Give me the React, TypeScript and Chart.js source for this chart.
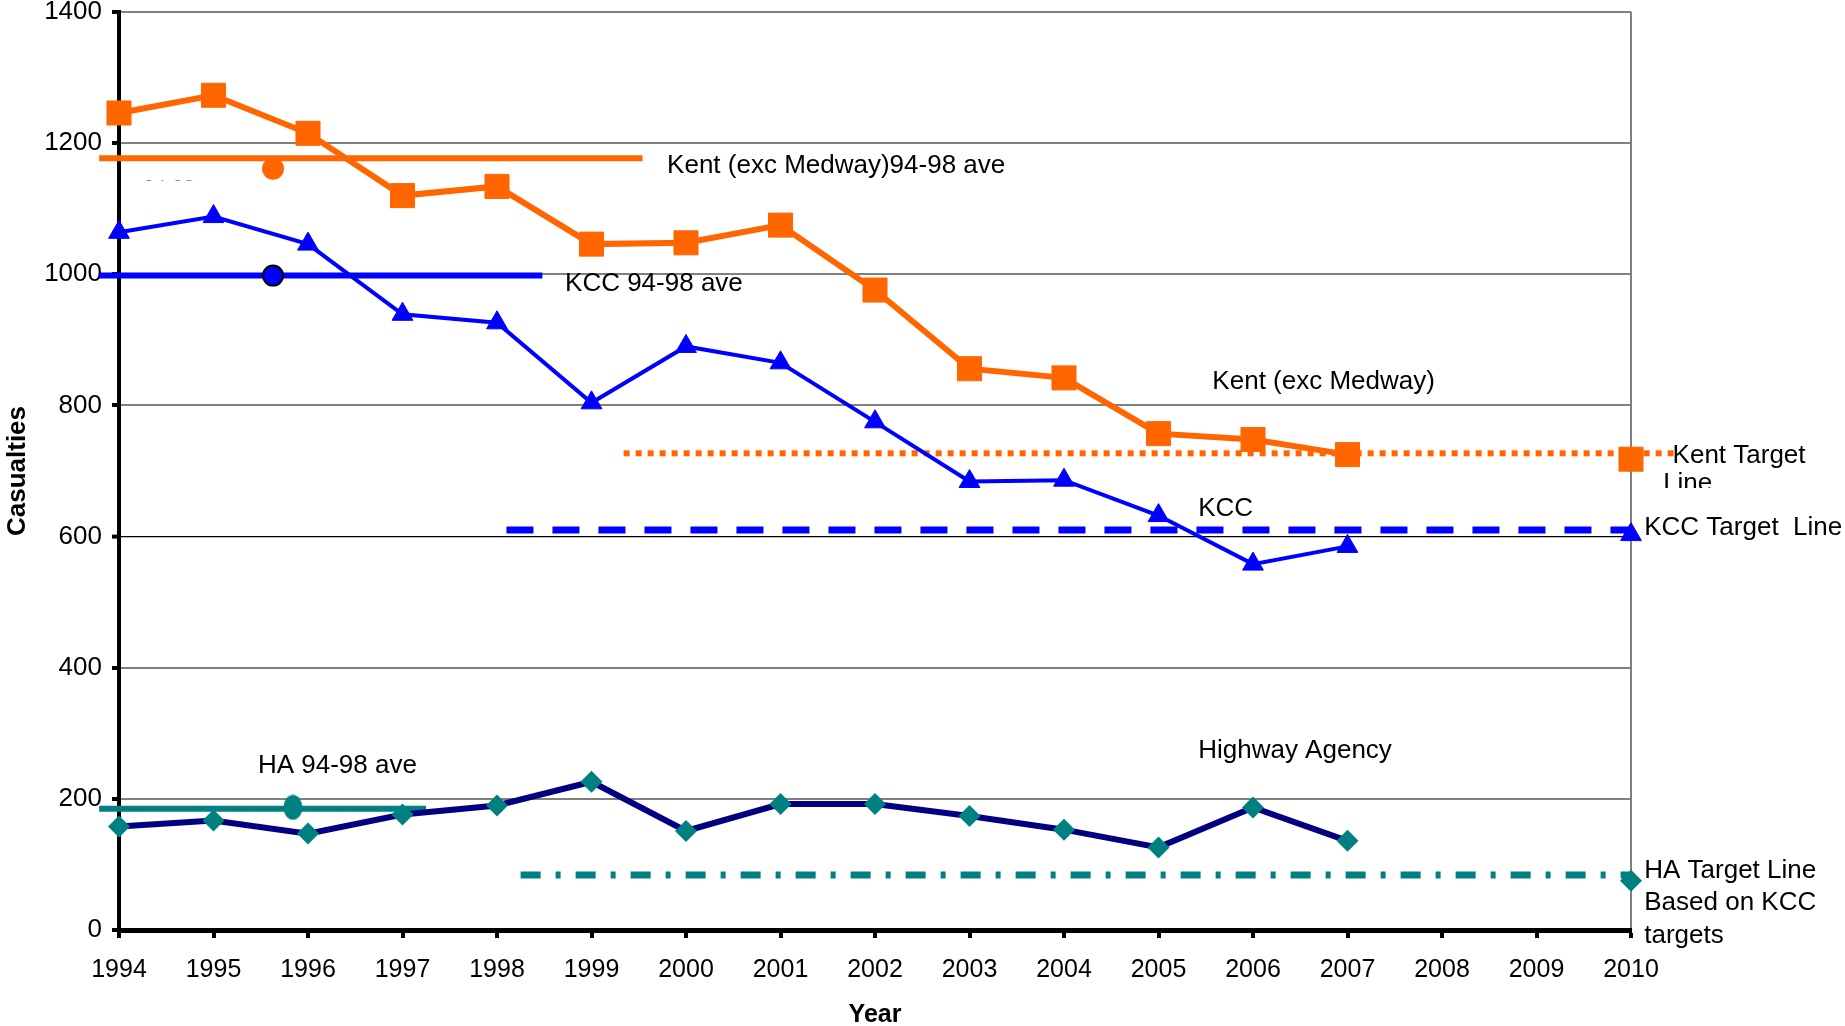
import React, { useEffect, useRef } from "react";
import { Chart, registerables } from "chart.js";

Chart.register(...registerables);

// ---- data ----
const years = [1994, 1995, 1996, 1997, 1998, 1999, 2000, 2001, 2002, 2003, 2004, 2005, 2006, 2007];
const kentValues = [1246, 1273, 1215, 1120, 1134, 1046, 1048, 1075, 976, 856, 842, 757, 748, 725];
const kccValues = [1064, 1088, 1046, 939, 926, 804, 890, 865, 775, 684, 686, 632, 558, 585];
const haValues = [158, 167, 147, 176, 190, 226, 151, 192, 192, 174, 153, 126, 187, 136];

const targetYear = 2010;
const kentTargetPoint = 718;
const kccTargetPoint = 603;
const haTargetPoint = 75;

const kentTargetLine = 727;
const kccTargetLine = 610;
const haTargetLine = 84;
const kentTargetSpan = [1999.34, 2010.45];
const kccTargetSpan = [1998.1, 2010];
const haTargetSpan = [1998.25, 2010];

const kentAve = 1177;
const kccAve = 998;
const haAve = 185;
const kentAveSpan = [1993.79, 1999.54];
const kccAveSpan = [1993.79, 1998.48];
const haAveSpan = [1993.79, 1997.25];

const kentAveMarker = { x: 1995.63, y: 1161 };
const kccAveMarker = { x: 1995.63, y: 998 };
const haAveMarker = { x: 1995.84, y: 187 };

const xTicks = [1994, 1995, 1996, 1997, 1998, 1999, 2000, 2001, 2002, 2003, 2004, 2005, 2006, 2007, 2008, 2009, 2010];
const yTicks = [0, 200, 400, 600, 800, 1000, 1200, 1400];

type Note = { text: string; x: number; y: number; size?: number; clipBelow?: number; clipAbove?: number };
const notes: Note[] = [
  { text: "Kent (exc Medway)94-98 ave", x: 1999.8, y: 1165 },
  { text: "KCC 94-98 ave", x: 1998.72, y: 985 },
  { text: "Kent (exc Medway)", x: 2005.57, y: 836 },
  { text: "Kent Target", x: 2010.44, y: 723 },
  { text: "Line", x: 2010.34, y: 680, clipBelow: 674 },
  { text: "KCC", x: 2005.42, y: 643 },
  { text: "KCC Target  Line", x: 2010.14, y: 614 },
  { text: "Highway Agency", x: 2005.42, y: 273 },
  { text: "HA 94-98 ave", x: 1995.47, y: 251 },
  { text: "HA Target Line", x: 2010.14, y: 90 },
  { text: "Based on KCC", x: 2010.14, y: 41 },
  { text: "targets", x: 2010.14, y: -9 },
  { text: "94-98", x: 1994.26, y: 1151, size: 20, clipAbove: 1143 },
];

const FONT = "'Liberation Sans', Arial, sans-serif";
const ORANGE = "#FF6600";
const BLUE = "#0000FF";
const NAVY = "#000080";
const TEAL = "#008080";

function makeEllipse(): HTMLCanvasElement {
  const c = document.createElement("canvas");
  c.width = 20;
  c.height = 26;
  const g = c.getContext("2d")!;
  g.fillStyle = TEAL;
  g.beginPath();
  g.ellipse(10, 13, 9.5, 12.5, 0, 0, Math.PI * 2);
  g.fill();
  return c;
}

const notesPlugin = {
  id: "notes",
  afterDatasetsDraw(chart: any) {
    const { ctx, scales } = chart;
    const xs = scales.x;
    const ys = scales.y;
    ctx.save();
    ctx.fillStyle = "#000";
    ctx.textAlign = "left";
    ctx.textBaseline = "middle";
    for (const n of notes) {
      ctx.save();
      const px = xs.getPixelForValue(n.x);
      const py = ys.getPixelForValue(n.y);
      if (n.clipBelow !== undefined) {
        const cy = ys.getPixelForValue(n.clipBelow);
        ctx.beginPath();
        ctx.rect(0, 0, chart.width, cy);
        ctx.clip();
      }
      if (n.clipAbove !== undefined) {
        const cy = ys.getPixelForValue(n.clipAbove);
        ctx.beginPath();
        ctx.rect(0, cy, chart.width, chart.height - cy);
        ctx.clip();
      }
      ctx.font = `${n.size ?? 26}px ${FONT}`;
      ctx.fillText(n.text, px, py);
      ctx.restore();
    }
    ctx.restore();
  },
};

export default function App() {
  const ref = useRef<HTMLCanvasElement | null>(null);

  useEffect(() => {
    if (!ref.current) return;
    const pts = (vals: number[]) => years.map((yr, i) => ({ x: yr, y: vals[i] }));
    const span = (s: number[], v: number) => [{ x: s[0], y: v }, { x: s[1], y: v }];

    const chart = new Chart(ref.current, {
      type: "line",
      data: {
        datasets: [
          { label: "Kent ave marker", data: [kentAveMarker], showLine: false, backgroundColor: ORANGE, borderColor: ORANGE, pointStyle: "circle", pointRadius: 11, pointBorderWidth: 0, clip: false },
          { label: "KCC ave marker", data: [kccAveMarker], showLine: false, backgroundColor: BLUE, borderColor: "#000", pointStyle: "circle", pointRadius: 10, pointBorderWidth: 2, clip: false },
          { label: "HA ave marker", data: [haAveMarker], showLine: false, backgroundColor: TEAL, borderColor: TEAL, pointStyle: makeEllipse(), clip: false },
          { label: "Kent (exc Medway)", data: pts(kentValues), borderColor: ORANGE, backgroundColor: ORANGE, borderWidth: 6, pointStyle: "rect", pointRadius: 17, pointBorderWidth: 1, pointBorderColor: ORANGE, clip: false },
          { label: "KCC", data: pts(kccValues), borderColor: BLUE, backgroundColor: BLUE, borderWidth: 4, pointStyle: "triangle", pointRadius: 12, pointBorderWidth: 1, pointBorderColor: BLUE, clip: false },
          { label: "Highway Agency", data: pts(haValues), borderColor: NAVY, backgroundColor: TEAL, borderWidth: 6, pointStyle: "rectRot", pointRadius: 11, pointBorderWidth: 0, pointBorderColor: TEAL, clip: false },
          { label: "Kent target", data: [{ x: targetYear, y: kentTargetPoint }], showLine: false, backgroundColor: ORANGE, borderColor: ORANGE, pointStyle: "rect", pointRadius: 17, pointBorderWidth: 1, clip: false },
          { label: "KCC target", data: [{ x: targetYear, y: kccTargetPoint }], showLine: false, backgroundColor: BLUE, borderColor: BLUE, pointStyle: "triangle", pointRadius: 12, pointBorderWidth: 1, clip: false },
          { label: "HA target", data: [{ x: targetYear, y: haTargetPoint }], showLine: false, backgroundColor: TEAL, borderColor: TEAL, pointStyle: "rectRot", pointRadius: 11, pointBorderWidth: 0, clip: false },
          { label: "Kent Target Line", data: span(kentTargetSpan, kentTargetLine), borderColor: ORANGE, borderWidth: 6, borderDash: [6, 6], borderCapStyle: "butt", pointRadius: 0, clip: false },
          { label: "KCC Target Line", data: span(kccTargetSpan, kccTargetLine), borderColor: BLUE, borderWidth: 7, borderDash: [27, 19], borderCapStyle: "butt", pointRadius: 0, clip: false },
          { label: "HA Target Line", data: span(haTargetSpan, haTargetLine), borderColor: TEAL, borderWidth: 7, borderDash: [20, 15, 5, 15], borderCapStyle: "butt", pointRadius: 0, clip: false },
          { label: "Kent ave", data: span(kentAveSpan, kentAve), borderColor: ORANGE, borderWidth: 6, pointRadius: 0, clip: false },
          { label: "KCC ave", data: span(kccAveSpan, kccAve), borderColor: BLUE, borderWidth: 6, pointRadius: 0, clip: false },
          { label: "HA ave", data: span(haAveSpan, haAve), borderColor: TEAL, borderWidth: 6, pointRadius: 0, clip: false },
        ],
      },
      options: {
        animation: false,
        responsive: false,
        maintainAspectRatio: false,
        layout: { autoPadding: false, padding: { top: 12, right: 214, left: 0, bottom: 0 } },
        plugins: { legend: { display: false }, tooltip: { enabled: false } },
        scales: {
          x: {
            type: "linear", min: 1994, max: 2010,
            afterFit: (s: any) => { s.height = 96; },
            afterBuildTicks: (s: any) => { s.ticks = xTicks.map((v) => ({ value: v })); },
            ticks: { autoSkip: false, maxRotation: 0, padding: 17, color: "#000", font: { family: FONT, size: 25 }, callback: (v: any) => String(v) },
            grid: { drawOnChartArea: true, color: (c: any) => (c.tick && c.tick.value === 2010 ? "#808080" : "rgba(0,0,0,0)"), lineWidth: 2, tickLength: 8, tickColor: "#000", tickWidth: 4 },
            border: { display: true, color: "#000", width: 5 },
            title: { display: true, text: "Year", color: "#000", font: { family: FONT, size: 25, weight: "bold", lineHeight: 0.9 }, padding: { top: 0, bottom: 0 } },
          },
          y: {
            type: "linear", min: 0, max: 1400,
            afterFit: (s: any) => { s.width = 119; s.paddingTop = 0; s.paddingBottom = 0; },
            afterBuildTicks: (s: any) => { s.ticks = yTicks.map((v) => ({ value: v })); },
            ticks: { padding: 10, color: "#000", font: { family: FONT, size: 26 }, callback: (v: any) => String(v) },
            grid: {
              color: (c: any) => (c.tick && c.tick.value === 600 ? "#000" : c.tick && c.tick.value === 0 ? "rgba(0,0,0,0)" : "#808080"),
              lineWidth: (c: any) => (c.tick && c.tick.value === 600 ? 1.2 : 2),
              tickLength: 7, tickColor: "#000", tickWidth: 4,
            },
            border: { display: true, color: "#000", width: 4 },
            title: { display: true, text: "Casualties", color: "#000", font: { family: FONT, size: 26, weight: "bold" }, padding: { top: 2, bottom: 0 } },
          },
        },
      },
      plugins: [notesPlugin],
    } as any);

    return () => chart.destroy();
  }, []);

  return (
    <div style={{ position: "fixed", left: 0, top: 0, width: 1845, height: 1026, background: "#fff" }}>
      <canvas ref={ref} width={1845} height={1026} style={{ width: 1845, height: 1026, display: "block" }} />
    </div>
  );
}
